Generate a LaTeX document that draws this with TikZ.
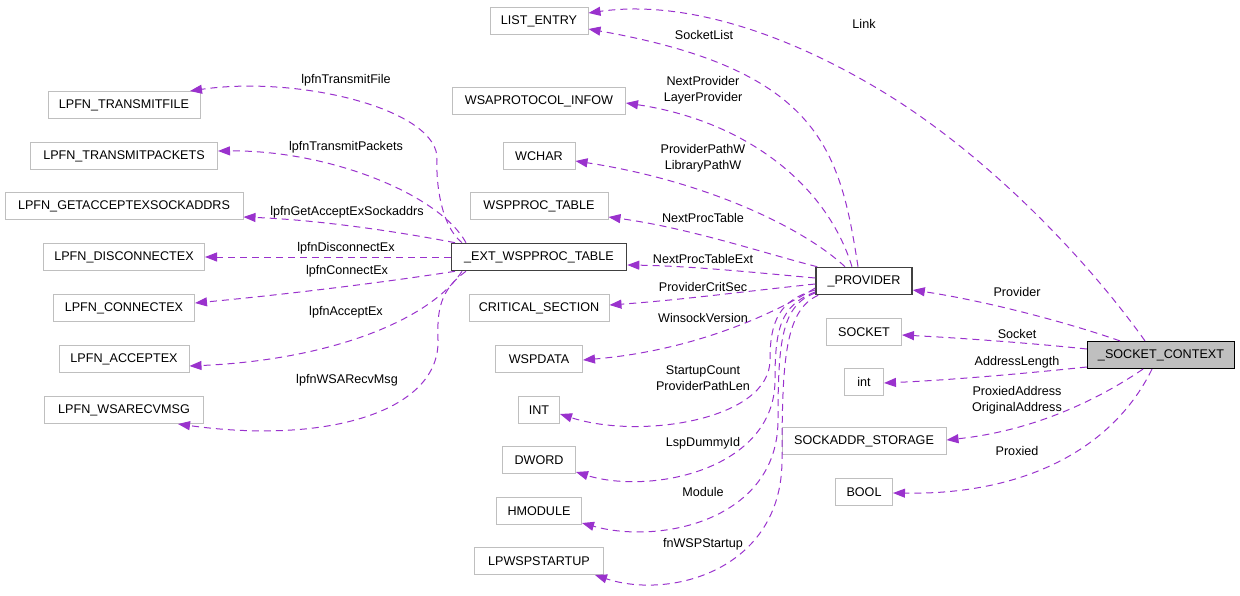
\documentclass[tikz,border=0pt]{standalone}
\usepackage{fontspec}
\setmainfont{Liberation Sans}
\usetikzlibrary{arrows.meta}
\definecolor{edgec}{RGB}{154,50,205}
\definecolor{boxgray}{RGB}{191,191,191}
\begin{document}
\begin{tikzpicture}[x=1pt,y=-1pt,
  every node/.style={font=\fontsize{12.6}{16}\selectfont},
  box/.style={draw=boxgray,line width=1pt,fill=white,minimum height=27pt,inner sep=0pt,anchor=center},
  hbox/.style={box,draw=black!75,line width=1.6pt},
  cbox/.style={box,draw=black,fill=boxgray,line width=1.2pt},
  edge/.style={draw=edgec,line width=1pt,dash pattern=on 7pt off 5pt,-{Triangle[length=12pt,width=9pt,fill=edgec]}},
  lbl/.style={align=center,inner sep=0pt}]
\useasboundingbox (0,0) rectangle (1240,595);
% left column
\node[box,minimum width=152pt] (tf) at (124,105) {LPFN\_TRANSMITFILE};
\node[box,minimum width=187pt] (tp) at (124,156) {LPFN\_TRANSMITPACKETS};
\node[box,minimum width=238pt] (ga) at (124,206) {LPFN\_GETACCEPTEXSOCKADDRS};
\node[box,minimum width=161pt] (dc) at (124,257) {LPFN\_DISCONNECTEX};
\node[box,minimum width=141pt] (cx) at (124,308) {LPFN\_CONNECTEX};
\node[box,minimum width=130pt] (ax) at (124,359) {LPFN\_ACCEPTEX};
\node[box,minimum width=159pt] (rm) at (124,410) {LPFN\_WSARECVMSG};
% middle column
\node[box,minimum width=98pt] (le) at (539,21) {LIST\_ENTRY};
\node[box,minimum width=173pt] (wpi) at (539,101) {WSAPROTOCOL\_INFOW};
\node[box,minimum width=72pt] (wch) at (539,156) {WCHAR};
\node[box,minimum width=138pt] (wpt) at (539,206) {WSPPROC\_TABLE};
\node[hbox,minimum width=175pt] (ext) at (539,257) {\_EXT\_WSPPROC\_TABLE};
\node[box,minimum width=140pt] (cs) at (539,308) {CRITICAL\_SECTION};
\node[box,minimum width=87pt] (wd) at (539,359) {WSPDATA};
\node[box,minimum width=41pt] (nINT) at (539,410) {INT};
\node[box,minimum width=73pt] (dw) at (539,460) {DWORD};
\node[box,minimum width=85pt] (hm) at (539,511) {HMODULE};
\node[box,minimum width=129pt] (ls) at (539,561) {LPWSPSTARTUP};
% right-middle column
\node[hbox,minimum width=96pt] (prov) at (864,281) {\_PROVIDER};
\node[box,minimum width=75pt] (sock) at (864,332) {SOCKET};
\node[box,minimum width=39pt] (nint) at (864,382) {int};
\node[box,minimum width=164pt] (ss) at (864,441) {SOCKADDR\_STORAGE};
\node[box,minimum width=57pt] (bool) at (864,492) {BOOL};
% right
\node[cbox,minimum width=147pt] (sc) at (1161,355) {\_SOCKET\_CONTEXT};

% edges from _SOCKET_CONTEXT
\draw[edge] ([xshift=-16pt]sc.north) .. controls (1080,250) and (980,150) .. (880,90) .. controls (780,30) and (680,0) .. ([yshift=8pt]le.east);
\draw[edge] ([xshift=-41pt]sc.north) .. controls (1060,320) and (980,300) .. ([yshift=-9pt]prov.east);
\draw[edge] ([yshift=6pt]sc.west) .. controls (1030,343) and (960,338) .. ([yshift=-3pt]sock.east);
\draw[edge] ([yshift=-12pt]sc.west) .. controls (1020,374) and (950,380) .. ([yshift=-1pt]nint.east);
\draw[edge] ([xshift=-18pt]sc.south) .. controls (1105,395) and (1040,430) .. ([yshift=1pt]ss.east);
\draw[edge] ([xshift=-9pt]sc.south) .. controls (1115,445) and (1030,495) .. ([yshift=-1pt]bool.east);

% edges from _PROVIDER
\draw[edge] ([xshift=-6pt]prov.north) .. controls (840,150) and (820,70) .. ([yshift=-8pt]le.east);
\draw[edge] ([xshift=-12pt]prov.north) .. controls (825,180) and (740,120) .. ([yshift=-2pt]wpi.east);
\draw[edge] ([xshift=-19pt]prov.north) .. controls (800,225) and (700,180) .. ([yshift=-5pt]wch.east);
\draw[edge] ([xshift=2pt]prov.north west) .. controls (770,255) and (690,228) .. ([yshift=-11pt]wpt.east);
\draw[edge] ([yshift=3pt]prov.west) .. controls (750,272) and (690,266) .. ([yshift=-8pt]ext.east);
\draw[edge] ([yshift=-3pt]prov.west) .. controls (740,292) and (680,300) .. ([yshift=3pt]cs.east);
\draw[edge] ([yshift=-7pt]prov.west) .. controls (780,310) and (700,350) .. ([yshift=-1pt]wd.east);
\draw[edge] ([yshift=-9pt]prov.west) .. controls (780,300) and (770,320) .. (770,360) .. controls (770,420) and (640,440) .. ([yshift=-4pt]nINT.east);
\draw[edge] ([yshift=-11pt]prov.west) .. controls (780,305) and (775,330) .. (775,380) .. controls (775,470) and (650,495) .. ([yshift=-12pt]dw.east);
\draw[edge] ([yshift=-12pt]prov.west) .. controls (782,305) and (778,340) .. (778,420) .. controls (778,520) and (660,545) .. ([yshift=-12pt]hm.east);
\draw[edge] ([xshift=3pt]prov.south west) .. controls (785,310) and (782,360) .. (782,460) .. controls (782,570) and (670,600) .. ([xshift=56pt]ls.south);

% edges from _EXT_WSPPROC_TABLE
\draw[edge] ([xshift=-77pt]ext.north) .. controls (440,225) and (436,180) .. (437,160) .. controls (440,110) and (300,75) .. ([xshift=66pt]tf.north);
\draw[edge] ([xshift=-73pt]ext.north) .. controls (440,195) and (330,150) .. ([yshift=5pt]tp.east);
\draw[edge] ([xshift=-84pt]ext.north) .. controls (400,232) and (320,220) .. ([yshift=-11pt]ga.east);
\draw[edge] (ext.west) -- (dc.east);
\draw[edge] ([xshift=-84pt]ext.south) .. controls (380,283) and (280,295) .. ([yshift=5pt]cx.east);
\draw[edge] ([xshift=-77pt]ext.south) .. controls (430,320) and (330,360) .. ([yshift=-7pt]ax.east);
\draw[edge] ([xshift=-73pt]ext.south) .. controls (440,290) and (437,310) .. (438,340) .. controls (440,410) and (330,445) .. ([xshift=54pt]rm.south);

% labels
\node[lbl] (l1) at (346,80) {lpfnTransmitFile};
\node[lbl] (l2) at (346,147) {lpfnTransmitPackets};
\node[lbl] (l3) at (347,212) {lpfnGetAcceptExSockaddrs};
\node[lbl] (l4) at (346,248) {lpfnDisconnectEx};
\node[lbl] (l5) at (347,271) {lpfnConnectEx};
\node[lbl] (l6) at (346,312) {lpfnAcceptEx};
\node[lbl] (l7) at (347,380) {lpfnWSARecvMsg};
\node[lbl] (m1) at (704,35) {SocketList};
\node[lbl] (m2) at (703,90) {NextProvider\\LayerProvider};
\node[lbl] (m3) at (703,158) {ProviderPathW\\LibraryPathW};
\node[lbl] (m4) at (703,218) {NextProcTable};
\node[lbl] (m5) at (703,259) {NextProcTableExt};
\node[lbl] (m6) at (703,287) {ProviderCritSec};
\node[lbl] (m7) at (703,318) {WinsockVersion};
\node[lbl] (m8) at (703,378) {StartupCount\\ProviderPathLen};
\node[lbl] (m9) at (703,443) {LspDummyId};
\node[lbl] (m10) at (703,492) {Module};
\node[lbl] (m11) at (703,544) {fnWSPStartup};
\node[lbl] (r1) at (864,24) {Link};
\node[lbl] (r2) at (1017,292) {Provider};
\node[lbl] (r3) at (1017,334) {Socket};
\node[lbl] (r4) at (1017,362) {AddressLength};
\node[lbl] (r5) at (1017,400) {ProxiedAddress\\OriginalAddress};
\node[lbl] (r6) at (1017,451) {Proxied};
\end{tikzpicture}
\end{document}
